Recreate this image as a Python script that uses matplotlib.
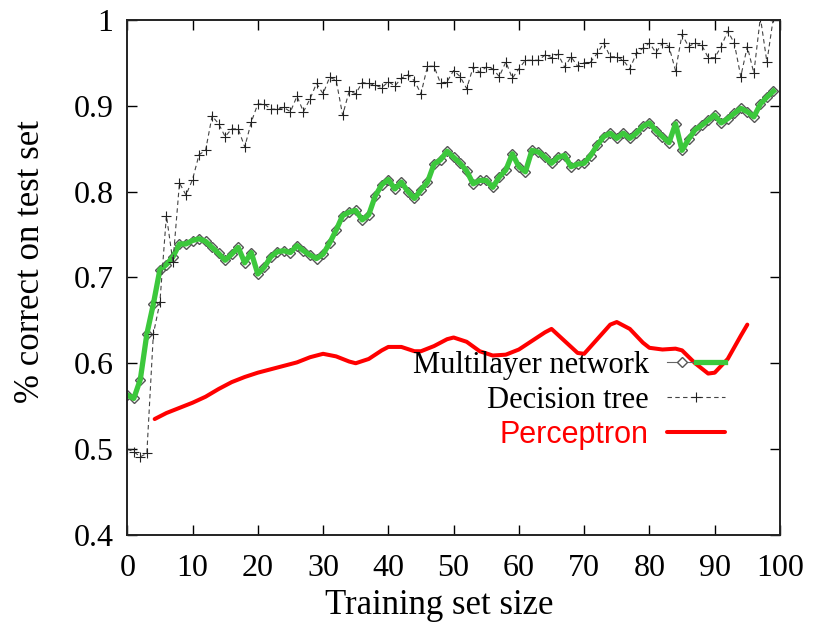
import numpy as np
import matplotlib.pyplot as plt
from matplotlib.legend_handler import HandlerTuple

plt.rcParams['font.family'] = ['Liberation Serif', 'DejaVu Serif']

# Training set sizes (one point per size)
sizes = np.arange(0, 100)

# Multilayer network accuracy
mlp = [0.563, 0.559, 0.581, 0.634, 0.669, 0.709, 0.715, 0.724, 0.739, 0.739,
       0.743, 0.745, 0.742, 0.735, 0.728, 0.720, 0.727, 0.735, 0.717, 0.729,
       0.704, 0.712, 0.724, 0.730, 0.731, 0.729, 0.737, 0.731, 0.726, 0.722,
       0.727, 0.740, 0.755, 0.772, 0.776, 0.778, 0.767, 0.773, 0.795, 0.808,
       0.814, 0.803, 0.811, 0.800, 0.792, 0.802, 0.811, 0.832, 0.837, 0.847,
       0.840, 0.833, 0.824, 0.809, 0.813, 0.813, 0.805, 0.817, 0.825, 0.844,
       0.829, 0.823, 0.848, 0.846, 0.840, 0.833, 0.840, 0.842, 0.829, 0.832,
       0.833, 0.842, 0.854, 0.864, 0.868, 0.862, 0.868, 0.862, 0.868, 0.876,
       0.880, 0.871, 0.864, 0.857, 0.879, 0.848, 0.861, 0.872, 0.877, 0.883,
       0.889, 0.880, 0.885, 0.891, 0.897, 0.893, 0.887, 0.902, 0.910, 0.917]

# Decision tree accuracy
tree = [0.500, 0.497, 0.491, 0.495, 0.634, 0.671, 0.772, 0.718, 0.810, 0.796,
        0.814, 0.843, 0.848, 0.888, 0.879, 0.864, 0.873, 0.873, 0.852, 0.881,
        0.902, 0.902, 0.896, 0.896, 0.898, 0.893, 0.911, 0.893, 0.908, 0.926,
        0.914, 0.933, 0.930, 0.889, 0.917, 0.914, 0.927, 0.926, 0.924, 0.921,
        0.928, 0.923, 0.932, 0.936, 0.929, 0.914, 0.946, 0.946, 0.926, 0.928,
        0.941, 0.934, 0.920, 0.945, 0.939, 0.945, 0.943, 0.934, 0.951, 0.932,
        0.943, 0.953, 0.953, 0.953, 0.959, 0.956, 0.960, 0.945, 0.957, 0.946,
        0.950, 0.951, 0.961, 0.973, 0.957, 0.957, 0.953, 0.943, 0.961, 0.967,
        0.973, 0.962, 0.973, 0.969, 0.941, 0.983, 0.969, 0.973, 0.971, 0.956,
        0.956, 0.969, 0.987, 0.973, 0.934, 0.969, 0.938, 1.003, 0.951, 1.003]

# Perceptron curve
perc_x = [4.2, 6, 8, 10, 12, 14, 16, 18, 20, 22, 24, 26, 28, 30, 32, 34, 35,
          37, 39, 40, 42, 44, 45, 47, 49, 50, 52, 54, 56, 58, 60, 62, 64, 65,
          67, 69, 70, 72, 74, 75, 77, 79, 80, 82, 84, 85, 87, 89, 90, 92, 94, 95]
perc_y = [0.535, 0.542, 0.548, 0.554, 0.561, 0.570, 0.578, 0.584, 0.589, 0.593,
          0.597, 0.601, 0.607, 0.611, 0.608, 0.602, 0.600, 0.605, 0.615, 0.619,
          0.619, 0.614, 0.614, 0.620, 0.628, 0.630, 0.625, 0.614, 0.609, 0.610,
          0.616, 0.626, 0.636, 0.640, 0.626, 0.612, 0.611, 0.628, 0.645, 0.648,
          0.640, 0.624, 0.618, 0.616, 0.617, 0.615, 0.600, 0.588, 0.589, 0.605,
          0.632, 0.645]

yticks = [0.4, 0.5, 0.6, 0.7, 0.8, 0.9, 1.0]
ytick_labels = ['0.4', '0.5', '0.6', '0.7', '0.8', '0.9', '1']
xticks = np.arange(0, 101, 10)

green = '#3cc83c'

fig = plt.figure(figsize=(8.21, 6.22), dpi=100)
ax = fig.add_axes([0.155, 0.14, 0.795, 0.828])

# multilayer network: gray diamonds with a thick green line over them
diam, = ax.plot(sizes, mlp, color='#666666', lw=0.8, marker='D', ms=5,
                mfc='white', mec='#555555', mew=1.0)
gline, = ax.plot(sizes, mlp, color=green, lw=3.8, solid_joinstyle='round')

# decision tree
tline, = ax.plot(sizes, tree, color='#444444', lw=0.8, ls=(0, (4, 3)),
                 marker='+', ms=7, mec='#222222', mew=0.8)

# perceptron
pline, = ax.plot(perc_x, perc_y, color='red', lw=2.9, solid_capstyle='round',
                 solid_joinstyle='round')

ax.set_xlim(0, 100)
ax.set_ylim(0.4, 1.0)
ax.set_xticks(xticks)
ax.set_yticks(yticks)
ax.set_yticklabels(ytick_labels)
ax.tick_params(direction='in', length=7, width=1.0, top=True, right=True,
               labelsize=23)
ax.tick_params(axis='x', pad=14)
ax.tick_params(axis='y', pad=10)
for sp in ax.spines.values():
    sp.set_linewidth(1.4)
    sp.set_color('#222222')

ax.set_xlabel('Training set size', fontsize=25, va='center')
ax.set_ylabel('% correct on test set', fontsize=25, va='center')
ax.xaxis.set_label_coords(0.478, -0.137)
ax.yaxis.set_label_coords(-0.149, 0.531)

leg = ax.legend([(diam, gline), tline, pline],
                ['Multilayer network', 'Decision tree', 'Perceptron'],
                handler_map={tuple: HandlerTuple(ndivide=None)},
                markerfirst=False, frameon=False, fontsize=22,
                loc='center right', bbox_to_anchor=(0.916, 0.261),
                borderpad=0, borderaxespad=0, handlelength=1.9,
                handletextpad=0.6, labelspacing=0.18)
ptxt = leg.get_texts()[2]
ptxt.set_color('red')
ptxt.set_fontfamily(['Liberation Sans', 'DejaVu Sans'])

fig.savefig('out.png', dpi=100)
